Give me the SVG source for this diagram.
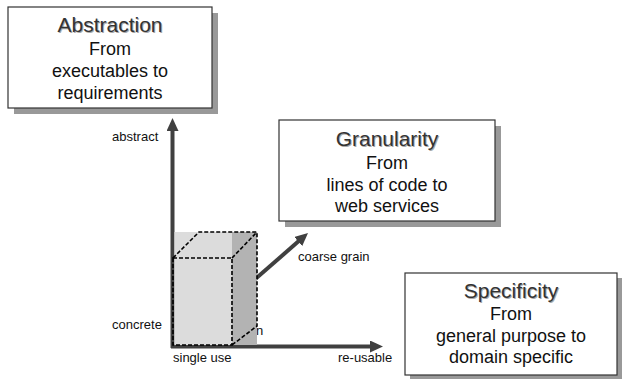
<svg xmlns="http://www.w3.org/2000/svg" width="626" height="379" viewBox="0 0 626 379">
<style>
.box{fill:#fff;stroke:#333;stroke-width:1.2}
.shadow{fill:#999}
.title{font-family:"Liberation Sans",Arial,sans-serif;font-size:21px;fill:#333;text-anchor:middle}
.tshadow{font-family:"Liberation Sans",Arial,sans-serif;font-size:21px;fill:#aaa;text-anchor:middle}
.body{font-family:"Liberation Sans",Arial,sans-serif;font-size:18px;fill:#111;text-anchor:middle}
.lbl{font-family:"Liberation Sans",Arial,sans-serif;font-size:13px;fill:#111}
.axis{stroke:#404040;stroke-width:4;fill:none}
.edge{stroke:#000;stroke-width:1.6;stroke-dasharray:4 2;fill:none}
</style>
<defs>
<marker id="ah" markerUnits="userSpaceOnUse" markerWidth="14" markerHeight="12" refX="3" refY="6" orient="auto">
<path d="M0,0 L13,6 L0,12 z" fill="#404040"/>
</marker>
</defs>

<g id="abstraction">
<rect class="shadow" x="14" y="13" width="204" height="101"/>
<rect class="box" x="8" y="7" width="204" height="101"/>
<text class="tshadow" x="111" y="33">Abstraction</text>
<text class="title" x="110" y="32">Abstraction</text>
<text class="body" x="110" y="55">From</text>
<text class="body" x="110" y="77">executables to</text>
<text class="body" x="110" y="99">requirements</text>
</g>

<g id="granularity">
<rect class="shadow" x="285" y="126" width="216" height="101"/>
<rect class="box" x="279" y="120" width="216" height="101"/>
<text class="tshadow" x="388" y="147">Granularity</text>
<text class="title" x="387" y="146">Granularity</text>
<text class="body" x="387" y="169">From</text>
<text class="body" x="387" y="191">lines of code to</text>
<text class="body" x="387" y="212">web services</text>
</g>

<g id="specificity">
<rect class="shadow" x="410" y="278" width="212" height="102"/>
<rect class="box" x="405" y="273" width="212" height="102"/>
<text class="tshadow" x="512" y="299">Specificity</text>
<text class="title" x="511" y="298">Specificity</text>
<text class="body" x="511" y="320">From</text>
<text class="body" x="511" y="342">general purpose to</text>
<text class="body" x="511" y="363">domain specific</text>
</g>

<g id="labels">
<text class="lbl" x="112" y="141">abstract</text>
<text class="lbl" x="298" y="261">coarse grain</text>
<text class="lbl" x="112" y="329">concrete</text>
<text class="lbl" x="173" y="362">single use</text>
<text class="lbl" x="338" y="362">re-usable</text>
<text class="lbl" x="256" y="335">n</text>
</g>

<g id="connectors">
<line class="axis" x1="172.5" y1="348" x2="172.5" y2="128" marker-end="url(#ah)"/>
<line class="axis" x1="171" y1="346.5" x2="373" y2="346.5" marker-end="url(#ah)"/>
<line class="axis" x1="245" y1="288" x2="300.5" y2="239.6" marker-end="url(#ah)"/>
</g>

<g id="cube">
<rect x="174.5" y="232" width="57.5" height="113" fill="#dcdcdc"/>
<rect x="232" y="232" width="25" height="113" fill="#b3b3b3"/>
<rect class="edge" x="173" y="258" width="59" height="87"/>
<polyline class="edge" points="173,258 199,232 257,232 257,326 232,345"/>
<line class="edge" x1="232" y1="258" x2="257" y2="232"/>
</g>
</svg>
